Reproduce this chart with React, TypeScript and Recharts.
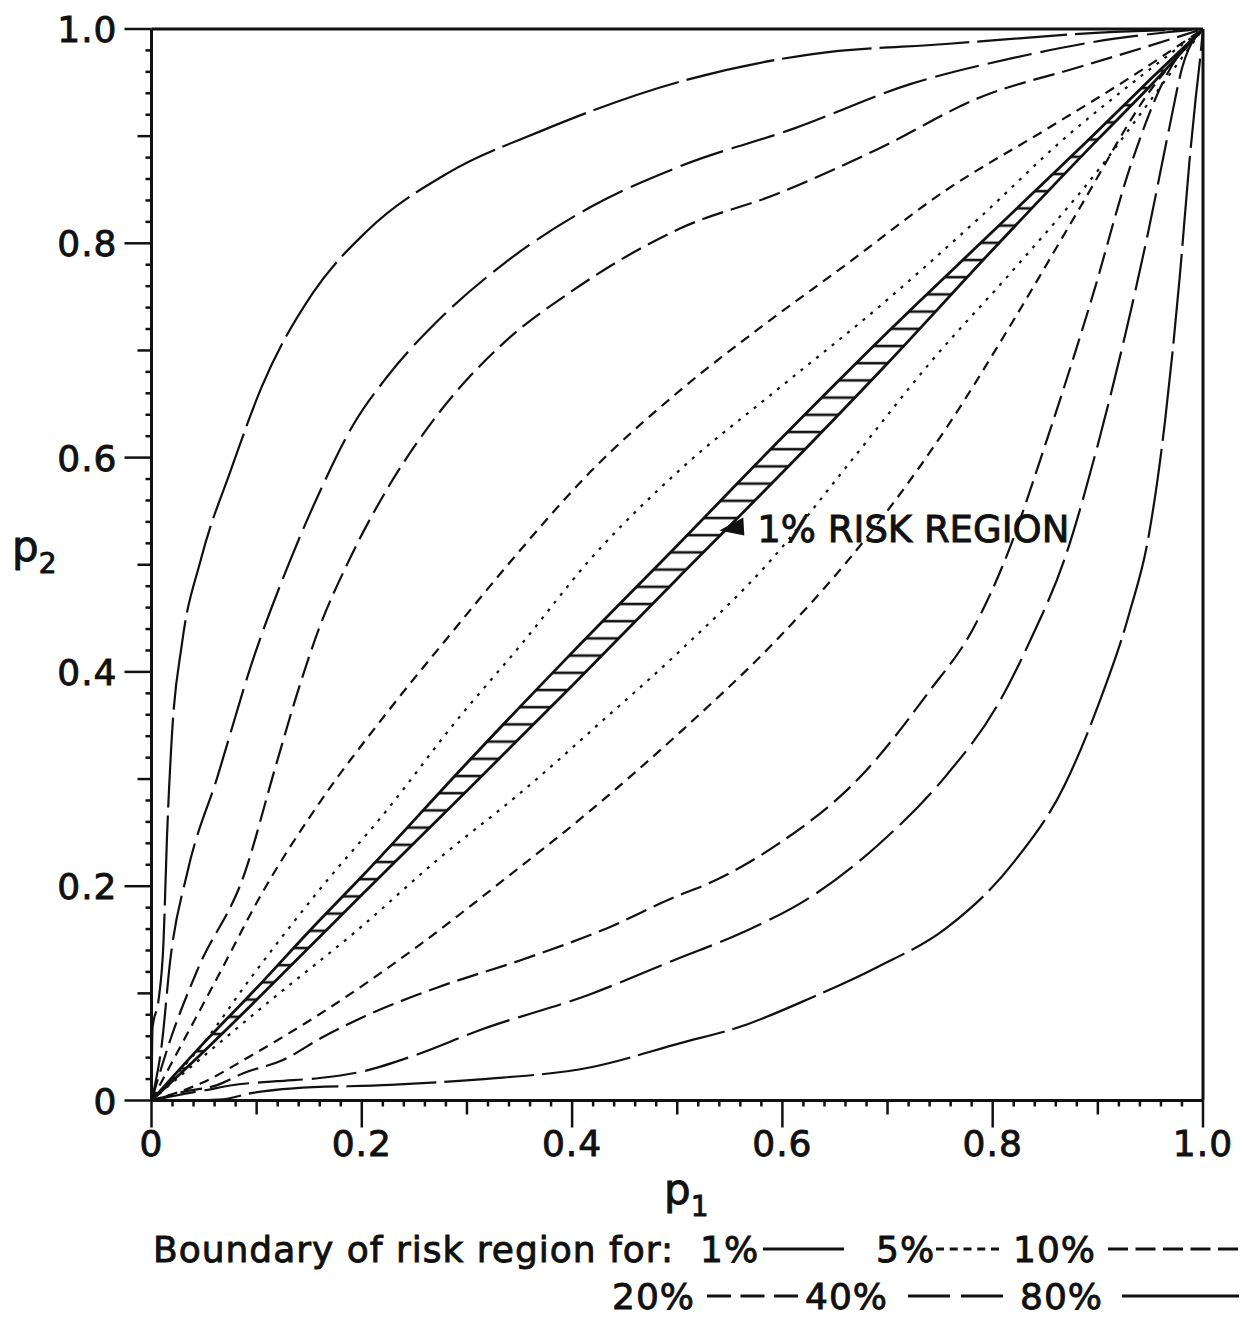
import { Area, ComposedChart, Line, ReferenceDot, ReferenceLine, XAxis, YAxis } from 'recharts';

// Risk-region boundaries for two proportions p1, p2. Each level has an
// upper curve (above the diagonal) and a lower one; the 1% region is the
// hatched band along the diagonal.

const MAJOR_TICKS = [0, 0.2, 0.4, 0.6, 0.8, 1.0];
const TICK_LABELS = ['0', '0.2', '0.4', '0.6', '0.8', '1.0'];
const ALL_TICKS = Array.from({ length: 51 }, (_, i) => i / 50);

// 1% band: p1 grid with lower / upper p2
const BAND_P1 = [0, 0.05, 0.1, 0.15, 0.2, 0.3, 0.4, 0.5, 0.6, 0.7, 0.8, 0.9, 0.95, 1];
const BAND_HI = [0, 0.054, 0.105, 0.158, 0.209, 0.315, 0.418, 0.518, 0.619, 0.717, 0.811, 0.905, 0.953, 1];
const BAND_LO = [0, 0.046, 0.094, 0.143, 0.192, 0.289, 0.387, 0.487, 0.586, 0.688, 0.794, 0.897, 0.947, 1];

// [p1, p2] points
const U5 = [[0, 0], [0.0468, 0.0503], [0.095, 0.1152], [0.1594, 0.1963], [0.2237, 0.2708], [0.288, 0.352], [0.3524, 0.4266], [0.4167, 0.5044], [0.503, 0.589], [0.5946, 0.663], [0.691, 0.74], [0.7876, 0.824], [0.868, 0.8977], [0.932, 0.949], [1, 1]];
const U10 = [[0, 0], [0.0275, 0.0503], [0.0629, 0.1152], [0.1048, 0.193], [0.1594, 0.2774], [0.2237, 0.3617], [0.288, 0.4396], [0.3427, 0.5044], [0.4167, 0.586], [0.503, 0.663], [0.5785, 0.721], [0.659, 0.779], [0.7555, 0.8495], [0.852, 0.907], [0.932, 0.9555], [1, 1]];
const U20 = [[0, 0], [0.0179, 0.0567], [0.0436, 0.1217], [0.0887, 0.2125], [0.1175, 0.31], [0.14, 0.3844], [0.159, 0.4396], [0.188, 0.5044], [0.2237, 0.57], [0.272, 0.64], [0.336, 0.708], [0.4007, 0.756], [0.503, 0.814], [0.5946, 0.846], [0.691, 0.888], [0.7876, 0.936], [0.884, 0.965], [0.948, 0.984], [1, 1]];
const U40 = [[0, 0], [0.0098, 0.0525], [0.0179, 0.1314], [0.034, 0.2125], [0.063, 0.303], [0.095, 0.407], [0.132, 0.5044], [0.1594, 0.5667], [0.1915, 0.63], [0.2237, 0.675], [0.272, 0.7274], [0.3364, 0.782], [0.4167, 0.8334], [0.503, 0.872], [0.6107, 0.907], [0.723, 0.949], [0.8197, 0.973], [0.916, 0.991], [1, 1]];
const U80 = [[0, 0], [0.001, 0.068], [0.0067, 0.0937], [0.0114, 0.1476], [0.0147, 0.245], [0.0195, 0.342], [0.029, 0.4266], [0.0468, 0.5044], [0.0757, 0.589], [0.1048, 0.666], [0.153, 0.753], [0.2045, 0.811], [0.2817, 0.8655], [0.3685, 0.904], [0.503, 0.951], [0.627, 0.9764], [0.7555, 0.986], [0.916, 0.9973], [1, 1]];

const L5 = [[0, 0], [0.06, 0.05], [0.1152, 0.095], [0.1963, 0.1594], [0.2708, 0.2237], [0.352, 0.288], [0.4266, 0.3524], [0.503, 0.42], [0.587, 0.502], [0.663, 0.594], [0.74, 0.688], [0.824, 0.78], [0.8977, 0.865], [0.949, 0.932], [1, 1]];
const L10 = [[0, 0], [0.047, 0.016], [0.095, 0.042], [0.159, 0.08], [0.256, 0.146], [0.3364, 0.207], [0.4167, 0.27], [0.503, 0.344], [0.5946, 0.43], [0.659, 0.5], [0.7555, 0.627], [0.8197, 0.728], [0.884, 0.835], [0.948, 0.94], [1, 1]];
const L20 = [[0, 0], [0.03, 0.008], [0.063, 0.0146], [0.0873, 0.0254], [0.125, 0.0378], [0.1635, 0.0595], [0.2015, 0.078], [0.272, 0.1055], [0.3524, 0.1314], [0.4328, 0.1606], [0.498, 0.19], [0.53, 0.2027], [0.5946, 0.2385], [0.675, 0.303], [0.739, 0.381], [0.781, 0.4396], [0.8117, 0.5044], [0.852, 0.618], [0.8937, 0.7466], [0.932, 0.875], [0.9645, 0.9555], [1, 1]];
const L40 = [[0, 0], [0.03, 0.006], [0.0525, 0.0098], [0.0747, 0.014], [0.119, 0.018], [0.16, 0.021], [0.2, 0.027], [0.25, 0.042], [0.3126, 0.0658], [0.4167, 0.099], [0.498, 0.1314], [0.5625, 0.157], [0.627, 0.19], [0.691, 0.2385], [0.7555, 0.303], [0.804, 0.368], [0.836, 0.43], [0.868, 0.5044], [0.9, 0.612], [0.926, 0.7145], [0.948, 0.811], [0.9678, 0.907], [0.9805, 0.965], [1, 1]];
const L80 = [[0, 0], [0.04, 0], [0.068, 0.001], [0.0937, 0.0067], [0.135, 0.0114], [0.227, 0.0145], [0.3126, 0.0198], [0.4167, 0.0308], [0.503, 0.0536], [0.5625, 0.0697], [0.627, 0.0957], [0.691, 0.1249], [0.7555, 0.1606], [0.8197, 0.222], [0.868, 0.2936], [0.9, 0.368], [0.93, 0.455], [0.948, 0.525], [0.964, 0.635], [0.978, 0.77], [0.987, 0.875], [0.993, 0.935], [0.997, 0.97], [1, 1]];

const LEVELS = ['5%', '10%', '20%', '40%', '80%'];
const UPPER = [U5, U10, U20, U40, U80];
const LOWER = [L5, L10, L20, L40, L80];
const CURVE_DASH = ['3 7', '10 7', '22 8', '45 9', '90 8'];
const LEGEND_DASH = ['8 5.75', '20 7.5', '24 9.5', '42 11', ''];

const ANNOTATION = { p1: 0.54, p2: 0.532, text: '1% RISK REGION' };

const FONT = '"DejaVu Sans", sans-serif';
const INK = '#111';

const toPts = (arr: number[][]) => arr.map(([p1, p2]) => ({ p1, p2 }));
const bandData = BAND_P1.map((p1, i) => ({ p1, hi: BAND_HI[i], lo: BAND_LO[i], range: [BAND_LO[i], BAND_HI[i]] }));

const tickLen = (v: number) => {
  const k = Math.round(v * 50);
  return k % 10 === 0 ? 27 : k % 5 === 0 ? 14 : 6;
};
const labelFor = (v: number) => {
  const i = MAJOR_TICKS.findIndex((t) => Math.abs(t - v) < 1e-6);
  return i >= 0 ? TICK_LABELS[i] : null;
};

// text a bit heavier than DejaVu Book, like the lettering in the figure
const heavy = { fill: INK, stroke: INK, strokeWidth: 0.9, fontFamily: FONT };

function XTick(props: any) {
  const { x, y, payload } = props;
  const lab = labelFor(payload.value);
  return (
    <g>
      <line x1={x} x2={x} y1={y} y2={y + tickLen(payload.value)} stroke={INK} strokeWidth={2.5} />
      {lab && (
        <text x={x} y={y + 55} textAnchor="middle" fontSize={36} letterSpacing={1} {...heavy}>
          {lab}
        </text>
      )}
    </g>
  );
}

function YTick(props: any) {
  const { x, y, payload } = props;
  const lab = labelFor(payload.value);
  return (
    <g>
      <line x1={x - tickLen(payload.value)} x2={x} y1={y} y2={y} stroke={INK} strokeWidth={2.5} />
      {lab && (
        <text x={x - 34} y={y + 13} textAnchor="end" fontSize={36} letterSpacing={1} {...heavy}>
          {lab}
        </text>
      )}
    </g>
  );
}

function Arrow(props: any) {
  const { cx, cy } = props;
  return (
    <g>
      <polygon points={`${cx},${cy} ${cx + 24},${cy - 13} ${cx + 25},${cy + 5}`} fill={INK} />
      <text x={cx + 38} y={cy + 12} fontSize={37} {...heavy}>
        {ANNOTATION.text}
      </text>
    </g>
  );
}

function LegendSample({ x, y, w, dash }: { x: number; y: number; w: number; dash: string }) {
  return <line x1={x} x2={x + w} y1={y} y2={y} stroke={INK} strokeWidth={3} strokeDasharray={dash || undefined} />;
}

export default function App() {
  const txt = { fontSize: 36, letterSpacing: 1, ...heavy };
  return (
    <div style={{ position: 'absolute', left: 0, top: 0, width: 1244, height: 1318, background: '#fff' }}>
      <ComposedChart width={1244} height={1318} margin={{ top: 29, right: 41, left: 0, bottom: 157.5 }}>
        <XAxis
          type="number"
          dataKey="p1"
          domain={[0, 1]}
          ticks={ALL_TICKS}
          interval={0}
          tickSize={0}
          tickMargin={0}
          height={60}
          tick={XTick}
          axisLine={{ stroke: INK, strokeWidth: 3 }}
          allowDataOverflow
        />
        <YAxis
          type="number"
          dataKey="p2"
          domain={[0, 1]}
          ticks={ALL_TICKS}
          interval={0}
          tickSize={0}
          tickMargin={0}
          width={151.5}
          tick={YTick}
          axisLine={{ stroke: INK, strokeWidth: 3 }}
          allowDataOverflow
        />
        <ReferenceLine y={1} stroke={INK} strokeWidth={3} />
        <ReferenceLine x={1} stroke={INK} strokeWidth={3} />

        <Area data={bandData} dataKey="range" type="monotone" fill="url(#hatch)" fillOpacity={1} stroke="none" isAnimationActive={false} />
        <Line data={bandData} dataKey="hi" type="monotone" stroke={INK} strokeWidth={2.8} dot={false} activeDot={false} isAnimationActive={false} />
        <Line data={bandData} dataKey="lo" type="monotone" stroke={INK} strokeWidth={2.8} dot={false} activeDot={false} isAnimationActive={false} />

        {LEVELS.map((lv, i) => (
          <Line
            key={'u' + lv}
            data={toPts(UPPER[i])}
            dataKey="p2"
            type="monotone"
            stroke={INK}
            strokeWidth={2.2}
            strokeDasharray={CURVE_DASH[i]}
            dot={false}
            activeDot={false}
            isAnimationActive={false}
          />
        ))}
        {LEVELS.map((lv, i) => (
          <Line
            key={'l' + lv}
            data={toPts(LOWER[i])}
            dataKey="p2"
            type="monotone"
            stroke={INK}
            strokeWidth={2.2}
            strokeDasharray={CURVE_DASH[i]}
            dot={false}
            activeDot={false}
            isAnimationActive={false}
          />
        ))}

        <ReferenceDot x={ANNOTATION.p1} y={ANNOTATION.p2} r={0} shape={Arrow} />
      </ComposedChart>

      <svg width={1244} height={1318} style={{ position: 'absolute', left: 0, top: 0, pointerEvents: 'none' }}>
        <defs>
          <pattern id="hatch" patternUnits="userSpaceOnUse" width={10} height={17.2}>
            <line x1={0} x2={10} y1={2} y2={2} stroke={INK} strokeWidth={2.6} />
          </pattern>
        </defs>

        {/* axis titles */}
        <text x={12} y={561} fontSize={42} {...heavy}>
          p<tspan fontSize={28} dy={12}>2</tspan>
        </text>
        <text x={664} y={1204} fontSize={42} {...heavy}>
          p<tspan fontSize={28} dy={12}>1</tspan>
        </text>

        {/* legend row 1 */}
        <text x={153} y={1262} {...txt}>Boundary of risk region for:</text>
        <text x={700} y={1262} {...txt}>1%</text>
        <LegendSample x={763} y={1249} w={81} dash="" />
        <text x={876} y={1262} {...txt}>{LEVELS[0]}</text>
        <LegendSample x={936} y={1249} w={63} dash={LEGEND_DASH[0]} />
        <text x={1013} y={1262} {...txt}>{LEVELS[1]}</text>
        <LegendSample x={1108} y={1249} w={130} dash={LEGEND_DASH[1]} />

        {/* legend row 2 */}
        <text x={612} y={1309} {...txt}>{LEVELS[2]}</text>
        <LegendSample x={707} y={1296} w={91} dash={LEGEND_DASH[2]} />
        <text x={805} y={1309} {...txt}>{LEVELS[3]}</text>
        <LegendSample x={908} y={1296} w={95} dash={LEGEND_DASH[3]} />
        <text x={1020} y={1309} {...txt}>{LEVELS[4]}</text>
        <LegendSample x={1122} y={1296} w={117} dash={LEGEND_DASH[4]} />
      </svg>
    </div>
  );
}
